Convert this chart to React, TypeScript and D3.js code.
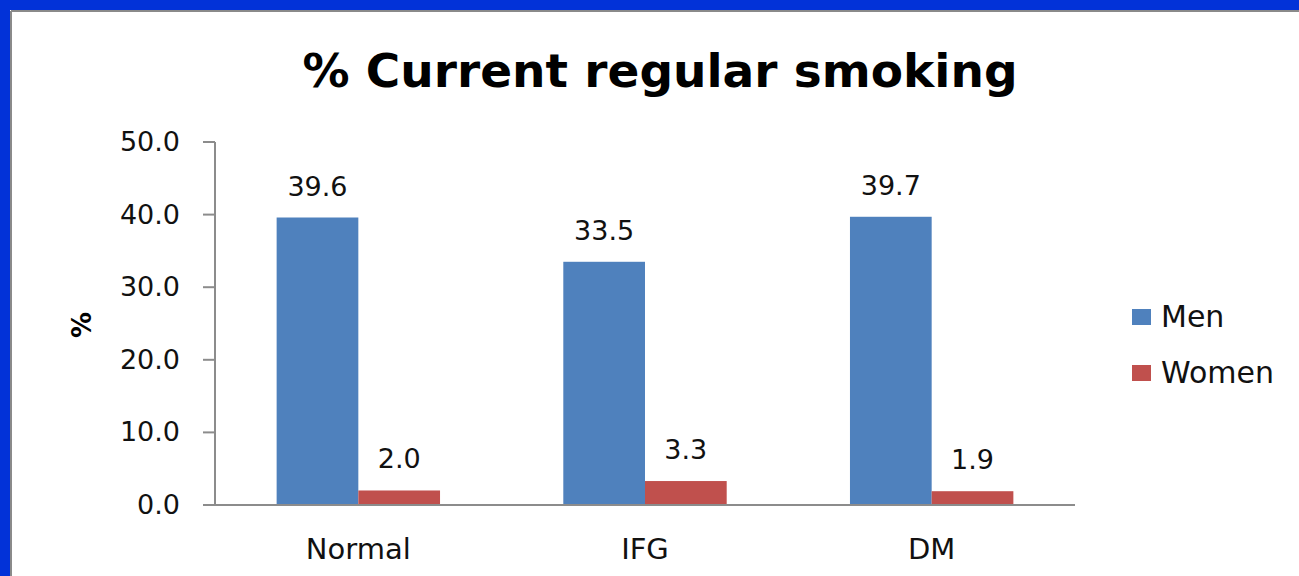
import React from "react";
import * as d3 from "d3";

const categories = ["Normal", "IFG", "DM"];
const seriesNames = ["Men", "Women"];
const menValues = [39.6, 33.5, 39.7];
const womenValues = [2.0, 3.3, 1.9];
const yTicks = [0, 10, 20, 30, 40, 50];
const colors = ["#4F81BD", "#C0504D"];

const W = 1299;
const H = 576;
const font = "'DejaVu Sans', Verdana, sans-serif";

export default function App() {
  const left = 215, right = 1075, top = 142, bottom = 505;
  const x0 = d3.scaleBand().domain(categories).range([left, right]).paddingInner(0.43).paddingOuter(0.215);
  const x1 = d3.scaleBand().domain(seriesNames).range([0, x0.bandwidth()]);
  const y = d3.scaleLinear().domain([0, 50]).range([bottom, top]);
  const series = [menValues, womenValues];
  const step = (right - left) / categories.length;

  return (
    <svg width={W} height={H} style={{ position: "absolute", left: 0, top: 0, display: "block" }}>
      <rect x={0} y={0} width={W} height={H} fill="#ffffff" />
      <rect x={0} y={0} width={W} height={10} fill="#0232D8" />
      <rect x={0} y={0} width={10} height={H} fill="#0232D8" />
      <line x1={11} y1={11} x2={W} y2={11} stroke="#8a8a8a" strokeWidth={2} />
      <line x1={11} y1={11} x2={11} y2={H} stroke="#8a8a8a" strokeWidth={2} />

      <text x={660} y={87} textAnchor="middle" fontFamily={font} fontWeight="bold" fontSize={47} fill="#000">
        % Current regular smoking
      </text>

      <text transform={`translate(91,325) rotate(-90)`} textAnchor="middle" fontFamily={font} fontWeight="bold" fontSize={26} fill="#000">%</text>

      {yTicks.map((t) => (
        <g key={t}>
          <line x1={left - 12} x2={left} y1={y(t)} y2={y(t)} stroke="#8c8c8c" strokeWidth={2} />
          <text x={180} y={y(t) + 9} textAnchor="end" fontFamily={font} fontSize={27} fill="#111">
            {t.toFixed(1)}
          </text>
        </g>
      ))}
      <line x1={left} x2={left} y1={top} y2={bottom} stroke="#8c8c8c" strokeWidth={2} />

      {categories.map((c, i) => (
        <g key={c}>
          {series.map((vals, s) => {
            const bx = (x0(c) as number) + (x1(seriesNames[s]) as number);
            const bw = x1.bandwidth();
            return (
              <g key={s}>
                <rect x={bx} y={y(vals[i])} width={bw} height={bottom - y(vals[i])} fill={colors[s]} />
                <text x={bx + bw / 2} y={y(vals[i]) - 22} textAnchor="middle" fontFamily={font} fontSize={27} fill="#111">
                  {vals[i].toFixed(1)}
                </text>
              </g>
            );
          })}
          <text x={left + step * (i + 0.5)} y={559} textAnchor="middle" fontFamily={font} fontSize={29} fill="#111">
            {c}
          </text>
        </g>
      ))}
      <line x1={left} x2={right} y1={bottom} y2={bottom} stroke="#8c8c8c" strokeWidth={2} />

      {seriesNames.map((n, s) => (
        <g key={n}>
          <rect x={1132} y={309 + s * 56} width={19} height={16} fill={colors[s]} />
          <text x={1161} y={327 + s * 56} fontFamily={font} fontSize={30} fill="#111">{n}</text>
        </g>
      ))}
    </svg>
  );
}
